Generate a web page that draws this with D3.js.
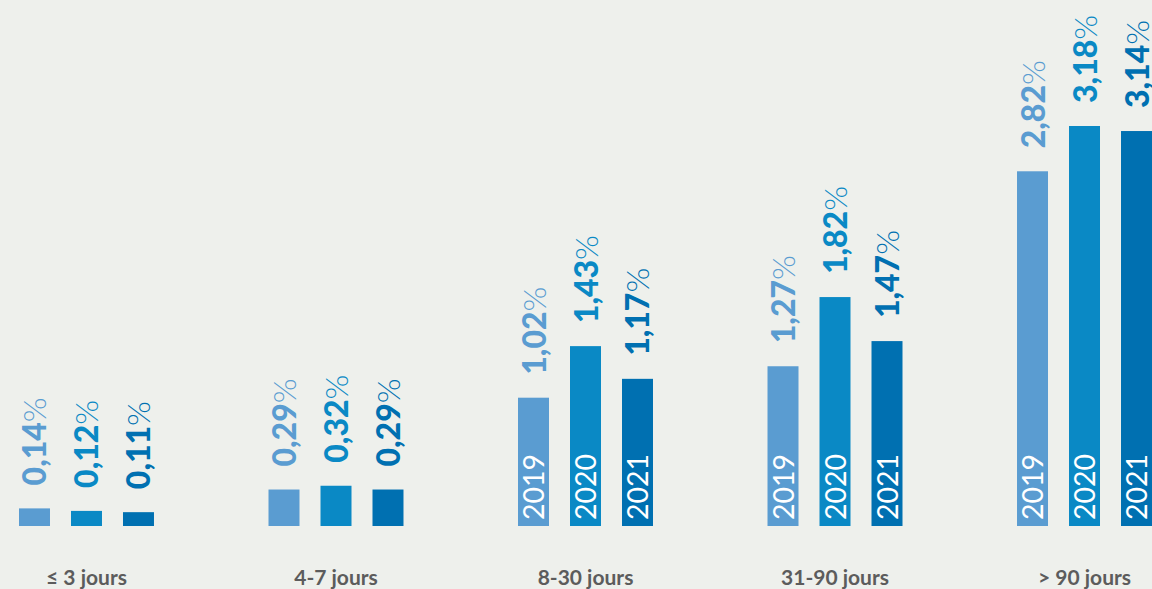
<!DOCTYPE html>
<html><head><meta charset="utf-8">
<script src="https://cdn.jsdelivr.net/npm/d3@7"></script>
<style>
html,body{margin:0;padding:0;background:#eef0ec;overflow:hidden}
svg{display:block}
</style></head>
<body>
<svg id="chart" width="1152" height="589"></svg>
<script>
const categories = ["≤ 3 jours", "4-7 jours", "8-30 jours", "31-90 jours", "> 90 jours"];
const years = ["2019", "2020", "2021"];
const values2019 = [0.14, 0.29, 1.02, 1.27, 2.82];
const values2020 = [0.12, 0.32, 1.43, 1.82, 3.18];
const values2021 = [0.11, 0.29, 1.17, 1.47, 3.14];
const valueLabels2019 = ["0,14", "0,29", "1,02", "1,27", "2,82"];
const valueLabels2020 = ["0,12", "0,32", "1,43", "1,82", "3,18"];
const valueLabels2021 = ["0,11", "0,29", "1,17", "1,47", "3,14"];
const colors = ["#5a9cd1", "#0a89c5", "#0070b1"];

const series = [values2019, values2020, values2021];
const seriesLabels = [valueLabels2019, valueLabels2020, valueLabels2021];

const svg = d3.select("#chart");
const baseY = 526;

const x0 = d3.scaleBand().domain(categories).range([19, 1152]).paddingInner(0.459).paddingOuter(0);
const x1 = d3.scaleBand().domain(years).range([0, x0.bandwidth()]).paddingInner(0.404).paddingOuter(0);
const y = d3.scaleLinear().domain([0, 3.18]).range([baseY, 126]);
const color = d3.scaleOrdinal().domain(years).range(colors);

const rows = [];
categories.forEach((c, i) => {
  years.forEach((yr, j) => {
    rows.push({cat: c, year: yr, value: series[j][i], label: seriesLabels[j][i]});
  });
});

const g = svg.append("g");
const groups = g.selectAll("g.grp").data(categories).join("g")
  .attr("class", "grp")
  .attr("transform", d => `translate(${x0(d)},0)`);

const bars = groups.selectAll("g.bar").data(c => rows.filter(r => r.cat === c)).join("g").attr("class", "bar");

bars.append("rect")
  .attr("x", d => x1(d.year))
  .attr("y", d => y(d.value))
  .attr("width", x1.bandwidth())
  .attr("height", d => baseY - y(d.value))
  .attr("fill", d => color(d.year));

// value labels
bars.append("text")
  .attr("transform", d => `translate(${x1(d.year) + x1.bandwidth() / 2 + 12},${y(d.value) - 23}) rotate(-90)`)
  .attr("font-family", "Lato, sans-serif")
  .attr("font-size", 32)
  .attr("fill", d => color(d.year))
  .call(t => {
    t.append("tspan").attr("font-weight", 900).text(d => d.label);
    t.append("tspan").attr("font-weight", 300).text("%");
  });

// year labels inside tall bars
bars.filter(d => baseY - y(d.value) > 80).append("text")
  .attr("transform", d => `translate(${x1(d.year) + x1.bandwidth() / 2 + 10.5},${baseY - 6}) rotate(-90)`)
  .attr("font-family", "Lato, sans-serif")
  .attr("font-size", 28.5)
  .attr("fill", "#ffffff")
  .text(d => d.year);

// category labels
const xAxis = d3.axisBottom(x0).tickSize(0).tickPadding(0);
const ax = svg.append("g").attr("transform", `translate(0,${baseY})`).call(xAxis);
ax.select(".domain").remove();
ax.selectAll("text")
  .attr("y", 59)
  .attr("dy", 0)
  .attr("font-family", "Lato, sans-serif")
  .attr("font-weight", 700)
  .attr("font-size", 21)
  .attr("fill", "#5c5c5c");
</script>
</body></html>
